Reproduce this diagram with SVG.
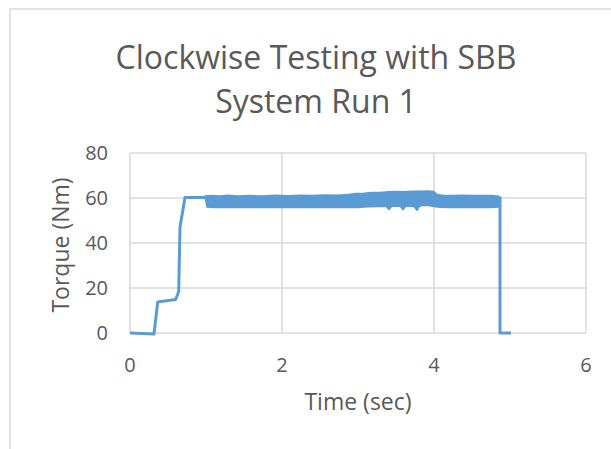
<svg xmlns="http://www.w3.org/2000/svg" width="611" height="449" viewBox="0 0 611 449">
<style>
.grid{stroke:#d9d9d9;stroke-width:1.5;fill:none}
.frame{stroke:#d9d9d9;stroke-width:1.5;fill:none}
.txt{font-family:"Open Sans","Liberation Sans",sans-serif;fill:#595959}
.tick{font-size:20px}
.axt{font-size:23px}
.title{font-size:32px}
.series{stroke:#5b9bd5;stroke-width:3;fill:none;stroke-linejoin:round;stroke-linecap:butt}
.band{fill:#5b9bd5;stroke:#5b9bd5;stroke-width:1.5;stroke-linejoin:round}
</style>
<rect x="0" y="0" width="611" height="449" fill="#ffffff"/>
<rect class="frame" x="10" y="9" width="700" height="500"/>
<g id="title">
<text class="txt title" x="316" y="69" text-anchor="middle">Clockwise Testing with SBB</text>
<text class="txt title" x="316" y="113" text-anchor="middle">System Run 1</text>
</g>
<g id="gridlines">
<line class="grid" x1="130" y1="153" x2="586" y2="153"/>
<line class="grid" x1="130" y1="198" x2="586" y2="198"/>
<line class="grid" x1="130" y1="243" x2="586" y2="243"/>
<line class="grid" x1="130" y1="288" x2="586" y2="288"/>
<line class="grid" x1="130" y1="333" x2="586" y2="333"/>
<line class="grid" x1="130" y1="153" x2="130" y2="333"/>
<line class="grid" x1="282" y1="153" x2="282" y2="333"/>
<line class="grid" x1="434" y1="153" x2="434" y2="333"/>
<line class="grid" x1="586" y1="153" x2="586" y2="333"/>
</g>
<g id="y-axis">
<text class="txt tick" x="108" y="160" text-anchor="end">80</text>
<text class="txt tick" x="108" y="205" text-anchor="end">60</text>
<text class="txt tick" x="108" y="250" text-anchor="end">40</text>
<text class="txt tick" x="108" y="295" text-anchor="end">20</text>
<text class="txt tick" x="108" y="340" text-anchor="end">0</text>
<text class="txt axt" transform="translate(69,245) rotate(-90)" text-anchor="middle">Torque (Nm)</text>
</g>
<g id="x-axis">
<text class="txt tick" x="130" y="372" text-anchor="middle">0</text>
<text class="txt tick" x="282" y="372" text-anchor="middle">2</text>
<text class="txt tick" x="434" y="372" text-anchor="middle">4</text>
<text class="txt tick" x="586" y="372" text-anchor="middle">6</text>
<text class="txt axt" x="358" y="410" text-anchor="middle">Time (sec)</text>
</g>
<g id="connectors">
<path class="series" d="M130,333 L154,334 L157.7,302 L175.7,299.5 L178.7,291.5 L180,227 L185,197.5 L206,197.5"/>
<polygon class="band" points="205,196 212,195.5 220,196 228,195.3 238,196 250,195.5 262,196 275,195.3 288,195.8 300,195.2 312,195.6 325,195 338,195.3 348,194.5 356,193.6 364,193.2 372,192.4 380,192.6 388,191.8 396,191.6 404,191.8 412,191.2 420,191.3 428,191 434,191.6 437,194.6 444,195.4 452,195.6 462,195.3 472,195.6 482,195.4 492,195.6 499,196.2 499,207 490,207.4 480,207.2 470,207.5 460,207.3 450,207.5 440,207.2 434,206.4 428,205.6 422,205.4 419,206.8 417,210.3 414,206.4 406,206 403,209.6 400,206.2 392,206 389,209.4 386,206.2 378,206.4 368,206.8 358,207.4 348,207.6 338,207.2 326,207.6 314,207.3 300,207.6 288,207.4 276,207.6 262,207.3 250,207.6 238,207.4 226,207.6 214,207.4 207,207"/>
<path class="series" d="M500,196.5 L500,333 L511,333"/>
</g>
</svg>
